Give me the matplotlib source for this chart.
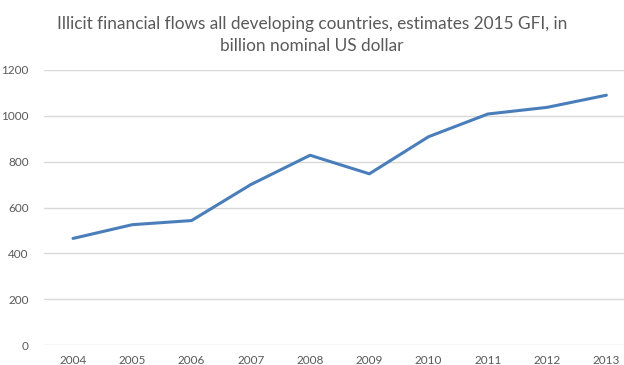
import matplotlib
matplotlib.use('Agg')
import matplotlib.pyplot as plt

# GFI 2015 estimates, billion nominal US dollar
years = ['2004', '2005', '2006', '2007', '2008', '2009', '2010', '2011', '2012', '2013']
flows = [465, 525, 543, 700, 828, 747, 909, 1008, 1037, 1090]

_GREY_TEXT = '#595959'
_GRID = '#D9D9D9'
_LINE_BLUE = '#4A7EBB'

plt.rcParams['font.family'] = ['Lato', 'DejaVu Sans']

fig = plt.figure(figsize=(6.24, 3.65), dpi=100)
# The plot area runs past the right edge of the figure, as in the exported chart
ax = fig.add_axes([44 / 624, 20 / 365, 592 / 624, 275 / 365])

x = list(range(len(years)))
ax.plot(x, flows, color=_LINE_BLUE, linewidth=2.2, solid_capstyle='round', zorder=3)

ax.set_xlim(-0.49, len(years) - 0.5)
ax.set_ylim(0, 1200)
ax.set_yticks(range(0, 1201, 200))
ax.set_xticks(x)
ax.set_xticklabels(years)

# Horizontal gridlines only, no frame
ax.yaxis.grid(True, color=_GRID, linewidth=1)
ax.set_axisbelow(True)
for s in ax.spines.values():
    s.set_visible(False)
ax.tick_params(axis='both', length=0, labelsize=8.5, colors=_GREY_TEXT)
ax.tick_params(axis='y', pad=11)
ax.tick_params(axis='x', pad=7)

fig.text(0.5, 0.955, 'Illicit financial flows all developing countries, estimates 2015 GFI, in\nbillion nominal US dollar',
         ha='center', va='top', fontsize=12.4, color=_GREY_TEXT, linespacing=1.45)

fig.savefig('out.png', dpi=100)
